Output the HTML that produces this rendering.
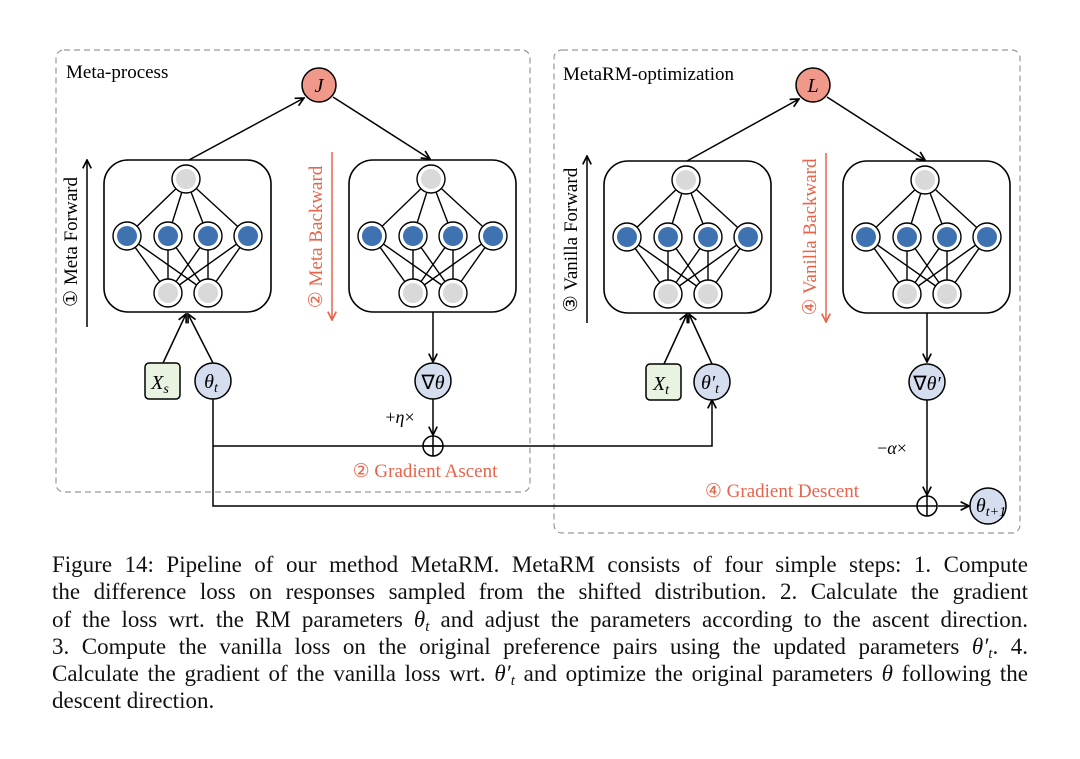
<!DOCTYPE html>
<html><head><meta charset="utf-8"><style>
body{margin:0;width:1080px;height:759px;background:#fff;overflow:hidden;position:relative}
svg{position:absolute;left:0;top:0}
.cap{position:absolute;left:52px;top:551px;width:976px;font-family:"Liberation Serif",serif;font-size:23px;line-height:27.3px;color:#111}
.cap div{text-align:justify;text-align-last:justify;white-space:nowrap}
.cap div.last{text-align-last:left}
.cap sub{font-size:15px;line-height:0;vertical-align:-4px}
</style></head><body>
<svg width="1080" height="540" viewBox="0 0 1080 540" font-family="Liberation Serif, serif">
<defs>
<marker id="a" viewBox="0 0 10 10" refX="9" refY="5" markerWidth="7" markerHeight="7" orient="auto-start-reverse"><path d="M1,1 L9,5 L1,9" fill="none" stroke="#000" stroke-width="1.6"/></marker>
<marker id="r" viewBox="0 0 10 10" refX="9" refY="5" markerWidth="7" markerHeight="7" orient="auto"><path d="M1,1 L9,5 L1,9" fill="none" stroke="#e8634a" stroke-width="1.6"/></marker>
<g id="net">
<rect x="0" y="0" width="167" height="152" rx="24" fill="#fff" stroke="#000" stroke-width="1.6"/>
<g stroke="#000" stroke-width="1.4">
<line x1="82" y1="19" x2="23" y2="76"/><line x1="82" y1="19" x2="64" y2="76"/><line x1="82" y1="19" x2="104" y2="76"/><line x1="82" y1="19" x2="144" y2="76"/>
<line x1="23" y1="76" x2="64" y2="133"/><line x1="23" y1="76" x2="104" y2="133"/>
<line x1="64" y1="76" x2="64" y2="133"/><line x1="64" y1="76" x2="104" y2="133"/>
<line x1="104" y1="76" x2="64" y2="133"/><line x1="104" y1="76" x2="104" y2="133"/>
<line x1="144" y1="76" x2="64" y2="133"/><line x1="144" y1="76" x2="104" y2="133"/>
</g>
<g stroke="#000" stroke-width="1.4" fill="#fff">
<circle cx="82" cy="19" r="14"/><circle cx="64" cy="133" r="14"/><circle cx="104" cy="133" r="14"/>
<circle cx="23" cy="76" r="14"/><circle cx="64" cy="76" r="14"/><circle cx="104" cy="76" r="14"/><circle cx="144" cy="76" r="14"/>
</g>
<g fill="#d9d9d9"><circle cx="82" cy="19" r="10"/><circle cx="64" cy="133" r="10"/><circle cx="104" cy="133" r="10"/></g>
<g fill="#3f72b0"><circle cx="23" cy="76" r="10"/><circle cx="64" cy="76" r="10"/><circle cx="104" cy="76" r="10"/><circle cx="144" cy="76" r="10"/></g>
</g>
</defs>
<rect x="56" y="50" width="474" height="442" rx="8" fill="none" stroke="#999" stroke-width="1.2" stroke-dasharray="6,4"/>
<rect x="554" y="50" width="466" height="483" rx="8" fill="none" stroke="#999" stroke-width="1.2" stroke-dasharray="6,4"/>
<text x="66" y="78" font-size="19">Meta-process</text>
<text x="563" y="80" font-size="19">MetaRM-optimization</text>
<use href="#net" x="104" y="160"/><use href="#net" x="349" y="160"/>
<use href="#net" x="604" y="161"/><use href="#net" x="843" y="161"/>
<g stroke="#000" stroke-width="1.5" fill="none">
<line x1="189" y1="160" x2="304" y2="98" marker-end="url(#a)"/>
<line x1="333" y1="97" x2="430" y2="159" marker-end="url(#a)"/>
<line x1="687" y1="161" x2="799" y2="99" marker-end="url(#a)"/>
<line x1="827" y1="97" x2="925" y2="160" marker-end="url(#a)"/>
<line x1="87" y1="327" x2="87" y2="160" marker-end="url(#a)"/>
<line x1="587" y1="323" x2="587" y2="156" marker-end="url(#a)"/>
<line x1="163" y1="363" x2="186" y2="314" marker-end="url(#a)"/>
<line x1="213" y1="363" x2="188" y2="314" marker-end="url(#a)"/>
<line x1="664" y1="364" x2="687" y2="314" marker-end="url(#a)"/>
<line x1="712" y1="364" x2="689" y2="314" marker-end="url(#a)"/>
<line x1="433" y1="312" x2="433" y2="362" marker-end="url(#a)"/>
<line x1="433" y1="399" x2="433" y2="435" marker-end="url(#a)"/>
<line x1="927" y1="313" x2="927" y2="362" marker-end="url(#a)"/>
<line x1="927" y1="400" x2="927" y2="495" marker-end="url(#a)"/>
<polyline points="213,399 213,506 917,506"/>
<polyline points="213,446 712,446 712,400" marker-end="url(#a)"/>
<line x1="938" y1="506" x2="969" y2="506" marker-end="url(#a)"/>
<circle cx="433" cy="446" r="10"/><line x1="423" y1="446" x2="443" y2="446"/><line x1="433" y1="436" x2="433" y2="456"/>
<circle cx="927" cy="506" r="10"/><line x1="917" y1="506" x2="937" y2="506"/><line x1="927" y1="496" x2="927" y2="516"/>
</g>
<g stroke="#e8634a" stroke-width="1.5">
<line x1="332" y1="152" x2="332" y2="320" marker-end="url(#r)"/>
<line x1="826" y1="153" x2="826" y2="322" marker-end="url(#r)"/>
</g>
<g stroke="#000" stroke-width="1.5">
<circle cx="319" cy="85" r="17" fill="#f0998a"/><circle cx="813" cy="85" r="17" fill="#f0998a"/>
<rect x="145" y="363" width="35" height="36" rx="4" fill="#e9f3e1"/>
<rect x="646" y="364" width="35" height="36" rx="4" fill="#e9f3e1"/>
<circle cx="213" cy="381" r="18" fill="#d5deef"/><circle cx="712" cy="382" r="18" fill="#d5deef"/>
<circle cx="433" cy="381" r="18" fill="#d5deef"/><circle cx="927" cy="382" r="18" fill="#d5deef"/>
<circle cx="988" cy="506" r="18" fill="#d5deef"/>
</g>
<g font-style="italic" font-size="20" text-anchor="middle">
<text x="319" y="92">J</text><text x="813" y="92">L</text>
<text x="160" y="389">X<tspan font-size="14" dy="4">s</tspan></text>
<text x="661" y="390">X<tspan font-size="14" dy="4">t</tspan></text>
<text x="211" y="388">θ<tspan font-size="14" dy="4">t</tspan></text>
<text x="710" y="389">θ′<tspan font-size="14" dy="4">t</tspan></text>
<text x="433" y="389"><tspan font-style="normal">∇</tspan>θ</text>
<text x="927" y="390"><tspan font-style="normal">∇</tspan>θ′</text>
<text x="991" y="512">θ<tspan font-size="14" dy="4">t+1</tspan></text>
</g>
<text x="400" y="423" font-size="18" text-anchor="middle">+<tspan font-style="italic">η</tspan>×</text>
<text x="892" y="454" font-size="18" text-anchor="middle">−<tspan font-style="italic">α</tspan>×</text>
<text x="425" y="477" font-size="19" fill="#e8634a" text-anchor="middle">② Gradient Ascent</text>
<text x="782" y="497" font-size="19" fill="#e8634a" text-anchor="middle">④ Gradient Descent</text>
<text transform="translate(77,242) rotate(-90)" font-size="19" text-anchor="middle">① Meta Forward</text>
<text transform="translate(322,237) rotate(-90)" font-size="19" fill="#e8634a" text-anchor="middle">② Meta Backward</text>
<text transform="translate(577,240) rotate(-90)" font-size="19" text-anchor="middle">③ Vanilla Forward</text>
<text transform="translate(816,237) rotate(-90)" font-size="19" fill="#e8634a" text-anchor="middle">④ Vanilla Backward</text>
</svg>
<div class="cap">
<div>Figure 14: Pipeline of our method MetaRM. MetaRM consists of four simple steps: 1. Compute</div>
<div>the difference loss on responses sampled from the shifted distribution. 2. Calculate the gradient</div>
<div>of the loss wrt. the RM parameters <i>θ<sub>t</sub></i> and adjust the parameters according to the ascent direction.</div>
<div>3. Compute the vanilla loss on the original preference pairs using the updated parameters <i>θ′<sub>t</sub></i>. 4.</div>
<div>Calculate the gradient of the vanilla loss wrt. <i>θ′<sub>t</sub></i> and optimize the original parameters <i>θ</i> following the</div>
<div class="last">descent direction.</div>
</div>
</body></html>
